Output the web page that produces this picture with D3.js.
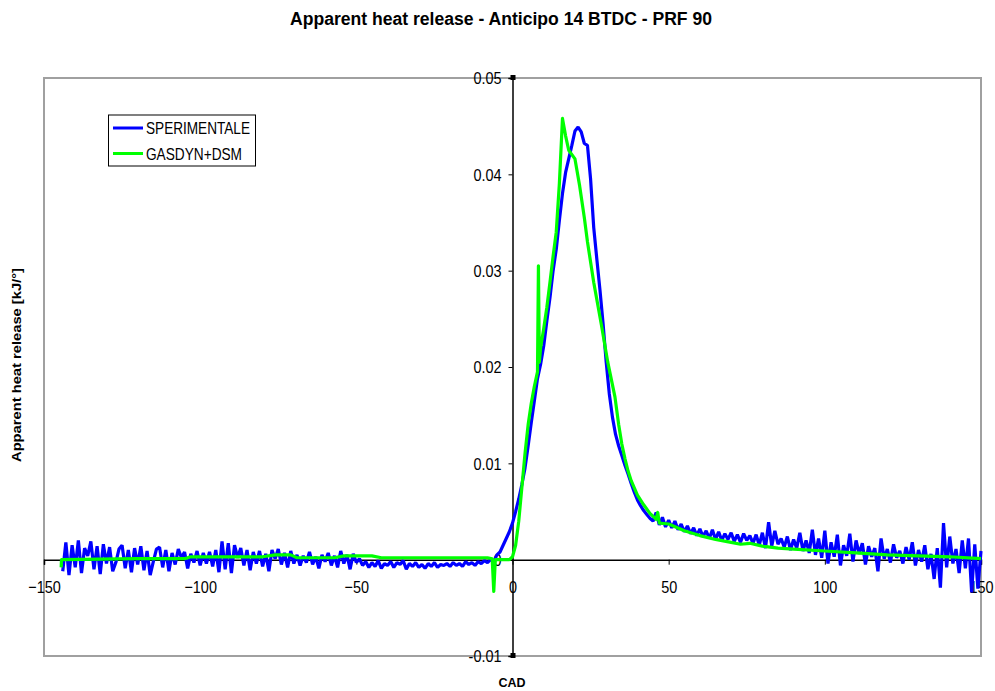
<!DOCTYPE html>
<html><head><meta charset="utf-8">
<script src="https://cdn.jsdelivr.net/npm/d3@7"></script>
<style>body{margin:0;background:#fff}svg{display:block}text{font-family:"Liberation Sans",Arial,sans-serif}</style>
</head><body><svg id="c" width="995" height="691"></svg>
<script>
const title = "Apparent heat release - Anticipo 14 BTDC - PRF 90";
const xLabel = "CAD";
const yLabel = "Apparent heat release [kJ/°]";
const seriesNames = ["SPERIMENTALE", "GASDYN+DSM"];
const xTicks = [-150, -100, -50, 0, 50, 100, 150];
const yTicks = [-0.01, 0, 0.01, 0.02, 0.03, 0.04, 0.05];
const yTickLabels = ["-0.01", "0", "0.01", "0.02", "0.03", "0.04", "0.05"];

// SPERIMENTALE: one value per degree, CAD -144 .. 150
const expStart = -144;
const expValues = [
-0.0012,0.0018,-0.0016,0.0015,-0.0008,0.0020,-0.0014,0.0012,0.0004,0.0019,
-0.0010,0.0014,-0.0015,0.0016,-0.0004,0.0013,-0.0012,-0.0003,0.0011,0.0015,
-0.0009,0.0010,-0.0013,0.0012,-0.0005,0.0014,-0.0011,0.0009,-0.0016,-0.0002,
0.0011,0.0013,-0.0008,0.0010,-0.0012,0.0007,-0.0005,0.0011,0.0002,0.0008,
-0.0009,0.0006,-0.0003,0.0009,-0.0006,
0.0007,-0.0004,0.0008,-0.0007,0.0010,-0.0013,0.0019,-0.0010,0.0017,-0.0014,
0.0015,0.0002,0.0012,-0.0006,0.0010,-0.0011,0.0008,-0.0004,0.0009,-0.0007,
0.0006,-0.0012,0.0010,0.0001,0.0011,-0.0005,0.0007,-0.0008,0.0009,-0.0004,
0.0005,-0.0006,0.0004,-0.0003,0.0008,-0.0005,0.0003,-0.0009,0.0005,-0.0002,
0.0007,-0.0006,0.0004,-0.0008,0.0009,-0.0004,0.0005,-0.0010,0.0006,-0.0003,
0.0001,-0.0006,-0.0002,-0.0008,-0.0003,-0.0007,-0.0001,-0.0009,-0.0004,-0.0006,
-0.0002,-0.0008,-0.0003,-0.0005,-0.0001,-0.0010,-0.0004,-0.0007,-0.0003,-0.0008,
-0.0005,-0.0009,-0.0004,-0.0007,-0.0003,-0.0008,-0.0005,-0.0006,-0.0004,-0.0007,
-0.0003,-0.0006,-0.0004,-0.0007,-0.0002,-0.0005,-0.0003,-0.0006,-0.0002,-0.0004,
-0.0001,-0.0003,0.0000,-0.0002,
0.0005,0.0008,0.0015,0.0022,0.0029,
0.0038,0.0050,0.0063,0.0078,0.0095,0.0118,0.0142,0.0165,0.0188,0.0203,
0.0222,0.0248,0.0272,0.0300,0.0322,0.0352,0.0380,0.0402,0.0416,0.0430,
0.0445,0.0449,0.0444,0.0432,0.0430,0.0395,0.0345,0.0312,0.0280,0.0245,
0.0205,0.0172,0.0148,0.0130,0.0118,0.0108,0.0098,0.0089,0.0079,0.0070,
0.0062,0.0056,0.0051,0.0047,0.0043,0.0040,0.0049,0.0036,0.0044,0.0034,
0.0041,0.0033,0.0040,0.0031,0.0037,0.0029,0.0035,0.0027,0.0033,0.0025,
0.0032,0.0024,0.0030,0.0022,0.0031,0.0021,0.0029,0.0020,0.0027,0.0021,
0.0028,0.0019,0.0026,0.0018,0.0027,0.0020,0.0025,0.0017,0.0026,0.0015,
0.0028,0.0012,0.0039,0.0014,0.0030,0.0016,0.0022,0.0013,0.0024,0.0010,
0.0021,0.0012,0.0028,0.0009,0.0020,0.0007,0.0031,0.0005,0.0022,0.0002,
0.0030,-0.0004,0.0018,0.0003,0.0026,-0.0006,0.0015,0.0004,0.0027,-0.0002,
0.0020,0.0006,0.0017,-0.0005,0.0014,0.0003,0.0012,-0.0012,0.0022,0.0001,
0.0011,-0.0003,0.0016,0.0002,0.0009,-0.0004,0.0013,0.0000,0.0018,-0.0006,
0.0010,-0.0002,0.0015,-0.0010,0.0006,-0.0020,0.0012,-0.0029,0.0038,-0.0008,
0.0024,-0.0004,0.0011,-0.0014,0.0020,-0.0009,0.0022,-0.0034,0.0016,-0.0030,
0.0009
];

// GASDYN+DSM
const simCad = [-144.5,-144.4,-120,-105,-103,-80,-76,-71,-69,-57,-54,-45,-42,-20,-8,-6.5,-6,-5.5,-1,0,1,2,3,4,5,6,7,8,8.3,8.6,9,10,11,12,13,14,15,16,17,18,20,21.5,23,24,26,28.5,30.5,32.8,34,35,36,37,38,40,42,44,46,46.5,47,50,55,60,65,70,73,76,80,85,90,100,110,120,130,140,150];
const simValues = [-0.0008,0.0000,0.0001,0.0001,0.0003,0.0003,0.0005,0.0005,0.0002,0.0002,0.0004,0.0004,0.0002,0.0002,0.0002,0.0001,-0.0033,0.0000,0.0000,0.0003,0.0015,0.0040,0.0075,0.0110,0.0140,0.0162,0.0180,0.0195,0.0305,0.0205,0.0220,0.0240,0.0262,0.0288,0.0315,0.0340,0.0390,0.0458,0.0440,0.0425,0.0416,0.0388,0.0355,0.0330,0.0288,0.0243,0.0205,0.0169,0.0140,0.0120,0.0105,0.0092,0.0082,0.0067,0.0057,0.0048,0.0042,0.0049,0.0038,0.0037,0.0030,0.0025,0.0021,0.0018,0.0016,0.0017,0.0014,0.0012,0.0011,0.0009,0.0007,0.0005,0.0004,0.0003,0.0001];

const expData = expValues.map((v, i) => ({x: expStart + i, y: v}));
const simData = simCad.map((c, i) => ({x: c, y: simValues[i]}));

const svg = d3.select("#c");
const L = 44, R = 981, T = 78, B = 656;
const x = d3.scaleLinear().domain([-150, 150]).range([L, R]);
const y = d3.scaleLinear().domain([-0.01, 0.05]).range([B, T]);

// plot frame
svg.append("rect").attr("x", L).attr("y", T).attr("width", R - L).attr("height", B - T)
  .attr("fill", "none").attr("stroke", "#a0a0a0").attr("stroke-width", 2);

// x axis at y=0
const xAxis = d3.axisBottom(x).tickValues(xTicks).tickSize(5).tickFormat(d3.format("d"));
const gx = svg.append("g").attr("transform", `translate(0,${y(0)})`).call(xAxis);
gx.select(".domain").attr("stroke", "#000").attr("stroke-width", 1.5);
gx.selectAll(".tick line").attr("stroke", "#000");
gx.selectAll(".tick text").attr("font-size", 17).attr("fill", "#000")
  .attr("y", 0).attr("dy", 0).attr("transform", "translate(0,33) scale(0.85,1)");

// y axis at x=0
const yAxis = d3.axisLeft(y).tickValues(yTicks).tickSize(4).tickFormat((d, i) => yTickLabels[i]);
const gy = svg.append("g").attr("transform", `translate(${x(0)},0)`).call(yAxis);
gy.select(".domain").attr("stroke", "#000").attr("stroke-width", 1.5);
gy.selectAll(".tick line").attr("stroke", "#000");
gy.selectAll(".tick text").attr("font-size", 17).attr("fill", "#000")
  .attr("x", 0).attr("dy", "0.34em").attr("transform", "translate(-11,0) scale(0.85,1)");
// small end markers
[0.05, -0.01].forEach(v => {
  svg.append("rect").attr("x", x(0) - 2).attr("y", y(v) - 3).attr("width", 5).attr("height", 5).attr("fill", "#000");
});

// lines
const line = d3.line().x(d => x(d.x)).y(d => y(d.y));
svg.append("path").datum(expData).attr("d", line).attr("fill", "none")
  .attr("stroke", "#0000ff").attr("stroke-width", 3.2).attr("stroke-linejoin", "bevel");
svg.append("path").datum(simData).attr("d", line).attr("fill", "none")
  .attr("stroke", "#00ff00").attr("stroke-width", 3.2).attr("stroke-linejoin", "round");

// title & labels
svg.append("text").attr("x", 501).attr("y", 25).attr("text-anchor", "middle")
  .attr("font-size", 17.5).attr("font-weight", "bold")
  .attr("textLength", 422).attr("lengthAdjust", "spacingAndGlyphs").text(title);
svg.append("text").attr("x", 512).attr("y", 687).attr("text-anchor", "middle")
  .attr("font-size", 12.5).attr("font-weight", "bold").text(xLabel);
svg.append("text").attr("transform", "translate(21,365) rotate(-90)").attr("text-anchor", "middle")
  .attr("font-size", 12.5).attr("font-weight", "bold")
  .attr("textLength", 194).attr("lengthAdjust", "spacingAndGlyphs").text(yLabel);

// legend
const lg = svg.append("g");
lg.append("rect").attr("x", 108.5).attr("y", 115).attr("width", 147).attr("height", 51)
  .attr("fill", "#fff").attr("stroke", "#000").attr("stroke-width", 1);
const colors = ["#0000ff", "#00ff00"];
const legendTextLen = [104, 96];
seriesNames.forEach((n, i) => {
  const yy = 128 + i * 25.5;
  lg.append("line").attr("x1", 113).attr("x2", 143).attr("y1", yy).attr("y2", yy)
    .attr("stroke", colors[i]).attr("stroke-width", 3);
  lg.append("text").attr("x", 146).attr("y", yy + 6.3).attr("font-size", 16.5)
    .attr("textLength", legendTextLen[i]).attr("lengthAdjust", "spacingAndGlyphs").text(n);
});
</script></body></html>
